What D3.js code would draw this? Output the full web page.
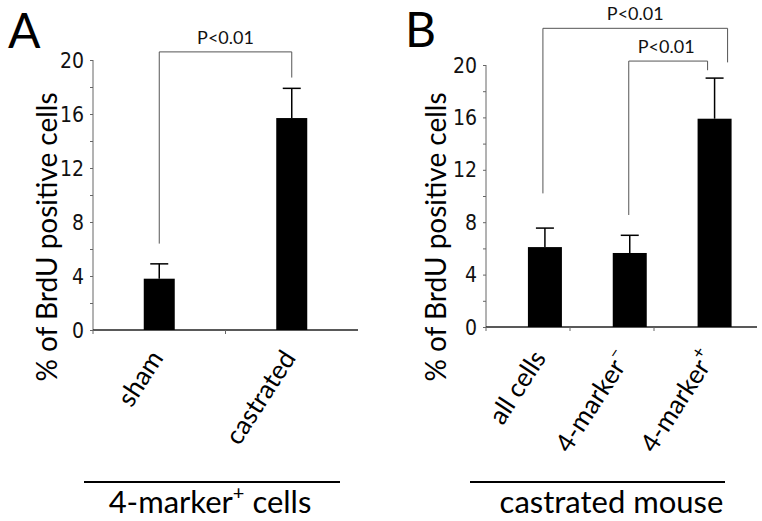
<!DOCTYPE html>
<html><head><meta charset="utf-8">
<script src="https://cdn.jsdelivr.net/npm/d3@7"></script>
<style>body{margin:0;background:#fff}svg{display:block}</style>
</head><body>
<svg id="c" width="762" height="521"></svg>
<script>
// ---- data ----
const catsA = ["sham", "castrated"];
const valsA = [3.8, 15.7];
const errA  = [1.1, 2.2];
const catsB = ["all cells", "4-marker", "4-marker"];
const supB  = ["", "\u2013", "+"];
const valsB = [6.1, 5.65, 15.9];
const errB  = [1.45, 1.35, 3.1];
const majorTicks = [0, 4, 8, 12, 16, 20];
const minorTicks = [0, 2, 4, 6, 8, 10, 12, 14, 16, 18, 20];
const yTitle = "% of BrdU positive cells";
const pLabel = "P<0.01";

const svg = d3.select("#c");
const FONT = "Lato, 'Open Sans', sans-serif";
const NARROW = "'Liberation Sans Narrow', 'DejaVu Sans Condensed', sans-serif";

function panel(opt) {
  const g = svg.append("g");
  const y = d3.scaleLinear().domain([0, 20]).range([opt.y0, opt.y1]);
  const x = d3.scaleBand().domain(d3.range(opt.cats.length)).range(opt.xr).paddingInner(0).paddingOuter(0);
  // y axis
  const ya = g.append("g").attr("transform", `translate(${opt.ax},0)`)
    .call(d3.axisLeft(y).tickValues(minorTicks).tickSize(3).tickFormat(""));
  ya.selectAll("path,line").attr("stroke", "#666").attr("stroke-width", 1);
  ya.select(".domain").attr("d", `M0,${opt.y0}V${opt.y1}`);
  g.selectAll(".yl").data(majorTicks).join("text")
    .attr("x", opt.ax - 9).attr("y", d => y(d)).attr("dy", "0.36em")
    .attr("text-anchor", "end").attr("font-family", NARROW).attr("font-size", 21)
    .attr("fill", "#111").text(d => d);
  // x axis
  g.append("line").attr("x1", opt.ax).attr("x2", opt.axEnd).attr("y1", opt.y0).attr("y2", opt.y0)
    .attr("stroke", "#222").attr("stroke-width", 1.5);
  g.selectAll(".xt").data(opt.tickCats).join("line")
    .attr("x1", d => opt.tickX(d)).attr("x2", d => opt.tickX(d))
    .attr("y1", opt.y0).attr("y2", opt.y0 + 4).attr("stroke", "#666");
  // bars
  const bw = opt.bw;
  const cx = i => x(i) + x.bandwidth() / 2;
  g.selectAll(".bar").data(opt.vals).join("rect")
    .attr("x", (d, i) => cx(i) - bw / 2).attr("width", bw)
    .attr("y", d => y(d)).attr("height", d => opt.y0 - y(d)).attr("fill", "#000");
  // error bars
  g.selectAll(".eb").data(opt.vals).join("line")
    .attr("x1", (d, i) => cx(i)).attr("x2", (d, i) => cx(i))
    .attr("y1", d => y(d)).attr("y2", (d, i) => y(d + opt.errs[i]))
    .attr("stroke", "#000").attr("stroke-width", 1.5);
  g.selectAll(".ec").data(opt.vals).join("line")
    .attr("x1", (d, i) => cx(i) - 9).attr("x2", (d, i) => cx(i) + 9)
    .attr("y1", (d, i) => y(d + opt.errs[i])).attr("y2", (d, i) => y(d + opt.errs[i]))
    .attr("stroke", "#000").attr("stroke-width", 1.5);
  // x labels
  opt.cats.forEach((c, i) => {
    const t = g.append("text")
      .attr("transform", `translate(${cx(i) + opt.lblDx},${opt.lblY}) rotate(${opt.rot})`)
      .attr("text-anchor", "end").attr("font-family", FONT).attr("font-size", opt.lblSize)
      .attr("fill", "#000");
    t.append("tspan").text(c);
    if (opt.sups && opt.sups[i]) t.append("tspan").attr("dy", -12).attr("font-size", 18).text(opt.sups[i]);
  });
  // y title
  g.append("text").attr("transform", `translate(${opt.titleX},${opt.titleY}) rotate(-90)`)
    .attr("text-anchor", "middle").attr("font-family", FONT).attr("font-size", 28).attr("fill", "#000")
    .text(yTitle);
  // panel letter
  g.append("text").attr("x", opt.letterX).attr("y", opt.letterY).attr("font-family", FONT)
    .attr("font-size", 48).attr("fill", "#000").text(opt.letter);
  // brackets
  opt.brackets.forEach(b => {
    const xa = cx(b.a) + b.da, xb = cx(b.b) + b.db;
    g.append("path").attr("d", `M${xa},${y(b.la)}V${y(b.top)}H${xb}V${y(b.lb)}`)
      .attr("fill", "none").attr("stroke", "#555").attr("stroke-width", 1);
    g.append("text").attr("x", (xa + xb) / 2 + b.tdx).attr("y", y(b.top) - 8)
      .attr("text-anchor", "middle").attr("font-family", FONT).attr("font-size", 18).attr("fill", "#111")
      .text(pLabel);
  });
  // group line + label
  g.append("line").attr("x1", opt.gl[0]).attr("x2", opt.gl[1]).attr("y1", 482).attr("y2", 482)
    .attr("stroke", "#000").attr("stroke-width", 2);
  const gt = g.append("text").attr("x", (opt.gl[0] + opt.gl[1]) / 2 + opt.gtdx).attr("y", 513)
    .attr("text-anchor", "middle").attr("font-family", FONT).attr("font-size", 31).attr("fill", "#000");
  opt.groupLabel.forEach(p => {
    const ts = gt.append("tspan").text(p.t);
    if (p.sup) ts.attr("dy", -13).attr("font-size", 20);
    if (p.after) ts.attr("dy", 13);
  });
}

panel({
  letter: "A", letterX: 8, letterY: 48,
  cats: catsA, vals: valsA, errs: errA,
  y0: 330, y1: 60, ax: 93, axEnd: 358, xr: [93, 358], bw: 31,
  tickCats: [0, 1], tickX: i => 93 + i * 132.5,
  lblDx: 5, lblY: 358, rot: -57, lblSize: 26,
  titleX: 57, titleY: 237,
  brackets: [{a: 0, b: 1, da: 0, db: 0, la: 6.4, lb: 18.7, top: 20.6, tdx: 0}],
  gl: [84, 340], gtdx: -2,
  groupLabel: [{t: "4-marker"}, {t: "+", sup: true}, {t: " cells", after: true}]
});

panel({
  letter: "B", letterX: 405, letterY: 47,
  cats: catsB, sups: supB, vals: valsB, errs: errB,
  y0: 327, y1: 65, ax: 486, axEnd: 757, xr: [502.5, 757], bw: 34,
  tickCats: [0, 1, 2], tickX: i => 486 + i * 84,
  lblDx: 2, lblY: 358, rot: -57, lblSize: 26,
  titleX: 446, titleY: 237,
  brackets: [
    {a: 0, b: 2, da: -2, db: 13, la: 10.2, lb: 20.2, top: 22.8, tdx: 0},
    {a: 1, b: 2, da: -1, db: -7, la: 8.55, lb: 19.6, top: 20.3, tdx: -2}
  ],
  gl: [470, 725], gtdx: 14,
  groupLabel: [{t: "castrated mouse"}]
});
</script>
</body></html>
